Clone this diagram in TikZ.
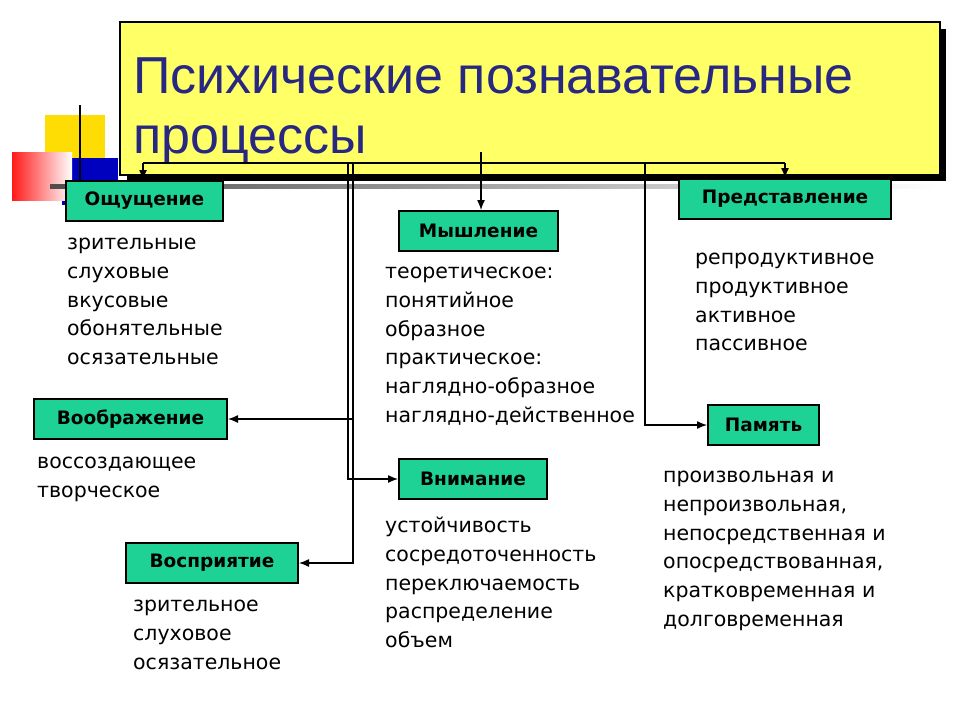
\documentclass[tikz,border=0pt]{standalone}
\usepackage{fontspec}
\setmainfont{Liberation Sans}
\newfontfamily\itemfont{DejaVu Sans}
\usetikzlibrary{positioning,arrows.meta}
\definecolor{titleyellow}{RGB}{255,255,102}
\definecolor{titleblue}{RGB}{40,40,130}
\definecolor{boxgreen}{RGB}{30,210,150}
\tikzset{
  proc/.style={draw=black, line width=2pt, fill=boxgreen, font=\itemfont\bfseries\fontsize{18.5}{22}\selectfont, inner sep=0pt, minimum height=40pt, anchor=north west},
  items/.style={anchor=north west, align=left, inner sep=0pt, font=\itemfont\fontsize{20.5}{28.7}\selectfont},
  link/.style={line width=1.3pt, -{Latex[length=10pt,width=8pt]}}
}
\begin{document}
\begin{tikzpicture}[x=1pt,y=-1pt]
\useasboundingbox (0,0) rectangle (960,720);
% decoration
\fill[yellow!80!orange] (45,115) rectangle (105,165);
\fill[blue!75!black] (62,158) rectangle (118,205);
\shade[left color=red!90, right color=white] (12,152) rectangle (72,200);
\draw[line width=1.5pt] (80,105) -- (80,190);
\shade[left color=black!70, right color=white] (50,184) rectangle (940,188);
% title
\fill[black] (127,29) rectangle (946,181);
\draw[line width=2.5pt, fill=titleyellow] (120,22) rectangle (940,175);
\node (title) [anchor=north west, align=left, inner sep=0pt, text=titleblue, font=\fontsize{52}{60}\selectfont] at (133,58) {Психические познавательные\\процессы};
% boxes
\node (oshch) [proc, minimum width=157pt] at (65,180) {Ощущение};
\node (mysh) [proc, minimum width=159pt] at (398,210) {Мышление};
\node (pred) [proc, minimum width=212pt] at (678,178) {Представление};
\node (voobr) [proc, minimum width=193pt] at (33,398) {Воображение};
\node (pamyat) [proc, minimum width=111pt] at (707,404) {Память};
\node (vnim) [proc, minimum width=148pt] at (398,458) {Внимание};
\node (vospr) [proc, minimum width=172pt] at (125,542) {Восприятие};
% lists
\node (l1) [items] at (67,238) {зрительные\\слуховые\\вкусовые\\обонятельные\\осязательные};
\node (l2) [items] at (385,267) {теоретическое:\\понятийное\\образное\\практическое:\\наглядно-образное\\наглядно-действенное};
\node (l3) [items] at (695,253) {репродуктивное\\продуктивное\\активное\\пассивное};
\node (l4) [items] at (37,457) {воссоздающее\\творческое};
\node (l5) [items] at (663,471) {произвольная и\\непроизвольная,\\непосредственная и\\опосредствованная,\\кратковременная и\\долговременная};
\node (l6) [items] at (385,517) {устойчивость\\сосредоточенность\\переключаемость\\распределение\\объем};
\node (l7) [items] at (133,600) {зрительное\\слуховое\\осязательное};
% connectors
\coordinate (top) at (481,152);
\coordinate (busl) at (143,163);
\coordinate (busr) at (785,163);
\draw[line width=1.3pt] (busl) -- (busr);
\draw[link] (busl) -- (busl |- oshch.north);
\draw[link] (busr) -- (busr |- pred.north);
\draw[link] (top) -- (top |- mysh.north);
\draw[link] (348,163) |- (vnim.west);
\draw[link] (353,163) |- (voobr.east);
\draw[link] (353,419) |- (vospr.east);
\draw[link] (645,163) |- (pamyat.west);
\end{tikzpicture}
\end{document}
